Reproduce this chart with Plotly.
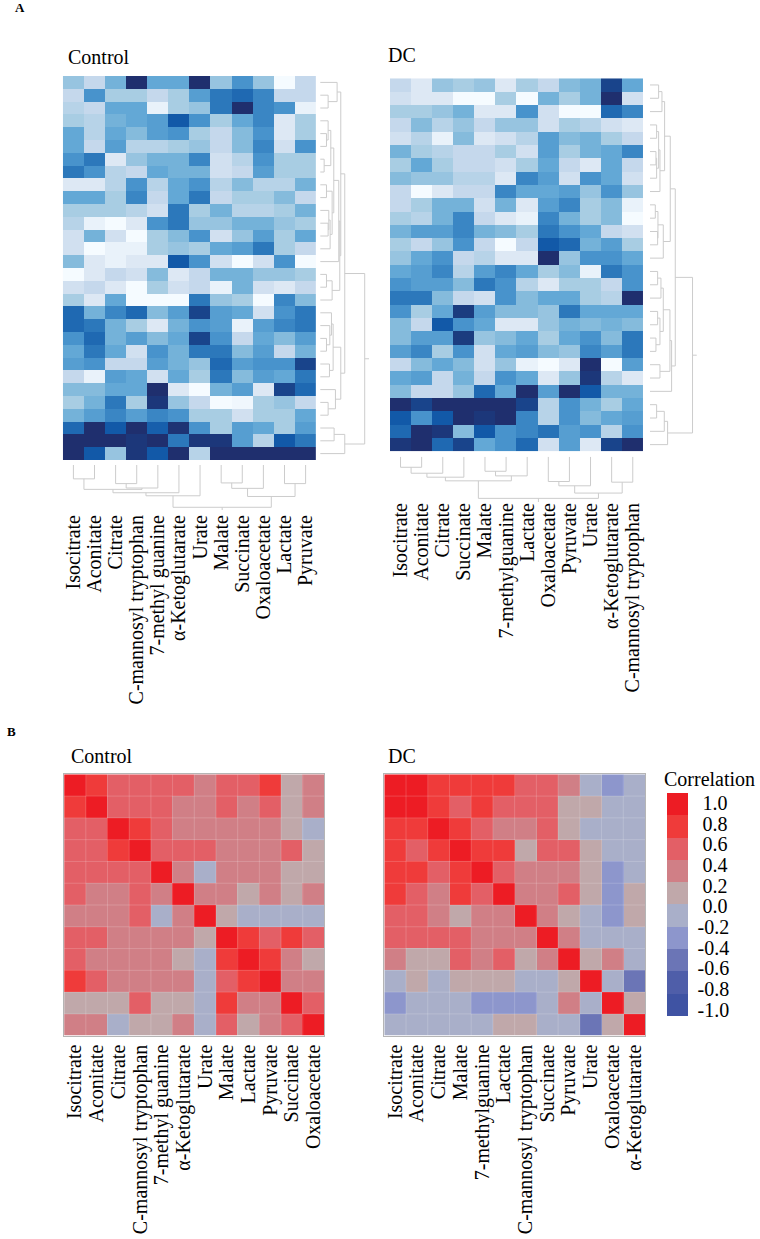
import plotly.graph_objects as go

W, H = 760, 1239
SERIF = "Liberation Serif"

# panel A labels
control_metabolites = ["Isocitrate", "Aconitate", "Citrate", "C-mannosyl tryptophan", "7-methyl guanine",
                       "α-Ketoglutarate", "Urate", "Malate", "Succinate", "Oxaloacetate", "Lactate", "Pyruvate"]
dc_metabolites = ["Isocitrate", "Aconitate", "Citrate", "Succinate", "Malate", "7-methylguanine", "Lactate",
                  "Oxaloacetate", "Pyruvate", "Urate", "α-Ketoglutarate", "C-mannosyl tryptophan"]

# panel B labels
control_corr_labels = ["Isocitrate", "Aconitate", "Citrate", "C-mannosyl tryptophan", "7-methyl guanine",
                       "α-Ketoglutarate", "Urate", "Malate", "Lactate", "Pyruvate", "Succinate", "Oxaloacetate"]
dc_corr_labels = ["Isocitrate", "Aconitate", "Citrate", "Malate", "7-methylguanine", "Lactate",
                  "C-mannosyl tryptophan", "Succinate", "Pyruvate", "Urate", "Oxaloacetate", "α-Ketoglutarate"]

# relative levels, 0 palest to 9 darkest
control_levels = [
    [3.5, 2, 4.5, 9, 5, 5, 9, 3.5, 6, 3.5, 0, 2],
    [2, 6, 3, 3, 2, 3, 5.5, 7, 7.5, 6.5, 2, 2],
    [2.5, 2, 5, 5, 0.5, 3, 3.5, 7, 9, 6.5, 6, 0.5],
    [3, 2.5, 4.5, 5, 5.5, 8, 6, 3, 5, 6.5, 1, 3],
    [5, 2.5, 5, 4, 5.5, 6, 3, 2, 4, 6, 1, 3],
    [5, 2, 5.5, 2.5, 2.5, 3, 3.5, 2, 4, 6.5, 1.5, 6],
    [6, 7, 1, 3.5, 4.5, 4.5, 6.5, 1.5, 2.5, 6, 3, 3],
    [7, 6, 2.5, 2, 5, 4.5, 4.5, 1.5, 2, 5.5, 3, 3],
    [1, 1, 2.5, 6, 2.5, 5, 6, 2.5, 4, 2.5, 2.5, 4.5],
    [5, 5, 3, 6.5, 2, 5, 7, 2, 3, 3, 4, 2],
    [3, 3, 3, 2.5, 1.5, 7, 3, 4.5, 2.5, 2.5, 3, 4.5],
    [2.5, 0.5, 0, 1, 6, 7, 3.5, 3.5, 4.5, 4.5, 3.5, 3],
    [1.5, 4.5, 1.5, 0, 3, 4, 6, 1.5, 3.5, 5.5, 3, 5],
    [1.5, 0, 0.5, 0.5, 3, 3.5, 3, 5, 5.5, 7, 3, 2],
    [4, 1, 0.5, 1, 1, 8, 6, 1.5, 0, 1.5, 6, 0],
    [0, 1, 2, 1.5, 4, 1, 2, 4.5, 4.5, 3.5, 3.5, 3],
    [1.5, 2, 1, 0, 3, 1.5, 2, 0.5, 4.5, 1.5, 1, 2],
    [3, 1, 5, 0, 0, 0, 7, 3.5, 3, 0, 6.5, 4],
    [7.5, 4.5, 6.5, 7.5, 4, 5.5, 8.5, 5.5, 5, 1.5, 6, 7],
    [7.5, 7, 4.5, 3, 1, 4.5, 6, 5.5, 0.5, 5.5, 6.5, 7],
    [6, 7.5, 4.5, 5.5, 4, 5, 8.5, 6, 2, 5, 4, 5.5],
    [5, 7, 5, 1.5, 6, 4.5, 7, 7, 4, 5.5, 2, 4.5],
    [5.5, 6, 2, 2, 5.5, 4.5, 3.5, 7.5, 5.5, 6, 6, 8.5],
    [2, 0.5, 5.5, 5, 1.5, 5, 3, 7, 4, 5.5, 5, 7],
    [4, 4, 5, 5, 9, 1, 0, 4.5, 5.5, 1, 8.5, 7.5],
    [3, 4.5, 7, 3, 8.8, 3.5, 2, 0, 0.2, 3, 3.5, 2],
    [4.5, 5.5, 6.5, 5.5, 6.5, 6, 3, 3, 1.5, 3, 3, 5],
    [7.5, 9, 8, 9, 7.8, 8.9, 6, 3, 5.5, 5, 3, 5.5],
    [9, 9, 9, 8.8, 9, 7, 8.8, 8.8, 5.5, 2.5, 8, 7],
    [9, 8, 3.5, 8.8, 8, 9, 2.5, 9, 9, 9, 9, 9],
]

dc_levels = [
    [2, 1, 3.5, 3, 3.5, 1, 3, 2, 4, 4.5, 8.5, 5],
    [1.5, 1, 1, 0, 0, 3, 0, 4.5, 3, 4.5, 9, 1.5],
    [3, 3, 3.5, 4.5, 1, 1, 6, 1.5, 0, 0, 7.5, 6.5],
    [2, 4, 2.5, 3.5, 2, 3.5, 3.5, 1.5, 3, 2.5, 1.5, 1],
    [1.5, 2.5, 0.5, 4, 1, 1.5, 2.5, 5.5, 4, 4.5, 3, 2],
    [4.5, 3, 2.5, 2, 2, 3, 1.5, 5.5, 3, 4.5, 5, 6.5],
    [3, 5, 3, 2, 2, 1.5, 3, 5, 2, 1, 5, 2],
    [4, 3.5, 3.5, 2.5, 2.5, 1, 6.5, 5.5, 1.5, 6, 5, 1.5],
    [2, 0, 1, 2, 2, 6.5, 5, 5, 5.5, 3.5, 6, 3.5],
    [2, 3, 4.5, 4.5, 1.5, 4.5, 1, 5.5, 6.5, 3, 4, 0.5],
    [3, 2.5, 4.5, 6.5, 2, 1, 0.5, 6.5, 4.5, 3, 4, 0],
    [4.5, 5.5, 5.5, 6.5, 4.5, 4, 3, 7, 6, 5, 2, 1.5],
    [3, 2, 3.5, 6, 2, 0, 2, 8, 7.5, 4.5, 5.5, 3],
    [3.5, 5, 6, 2, 2.5, 1, 1, 9, 3.5, 6, 6, 5],
    [5, 5.5, 6.5, 2.5, 5.5, 6.5, 5, 3, 4, 0.5, 7, 6],
    [6, 5.5, 5.5, 4, 7, 6, 2.5, 1, 3, 3, 2, 6],
    [7, 7, 4, 2, 1.5, 6, 4, 5, 5, 3, 2.5, 9],
    [6, 3, 5, 8.7, 5.5, 4, 4, 3.5, 7, 5, 5, 5],
    [4, 2, 8, 6, 5, 1, 1, 3.5, 4.5, 4, 4.5, 4],
    [4, 5.5, 5.5, 8.7, 3.5, 4, 5, 3, 5, 6, 4, 7],
    [5.5, 6.5, 3, 6, 1.5, 5, 5.5, 4, 3.5, 6.5, 5.5, 7],
    [2, 4, 5, 4, 1.5, 3.5, 0.5, 0, 1, 9, 0, 5.5],
    [5, 5.5, 2, 4.5, 2, 6, 5, 1, 3.5, 8.8, 2.5, 1],
    [4, 2, 2, 3.5, 7.5, 5, 9, 5.5, 9, 8, 4.5, 4.5],
    [9, 8.5, 9, 9, 9, 9, 8.5, 2.5, 6, 4.5, 3, 5],
    [8, 6, 8, 9, 8.8, 9, 6.5, 2.5, 6, 4, 5, 5.5],
    [7.5, 9, 8.8, 4, 8, 6, 6.5, 7.2, 5.5, 6, 2.5, 6],
    [8.8, 9, 7.5, 8.5, 5, 6, 7.5, 1.5, 5.5, 1, 8.5, 9],
]

# correlation matrices, each cell is the midpoint of its colour band
control_corr = [
    [.9, .7, .5, .5, .5, .5, .3, .5, .5, .7, .1, .3],
    [.7, .9, .5, .5, .5, .3, .3, .5, .3, .5, .1, .3],
    [.5, .5, .9, .7, .5, .3, .3, .3, .3, .3, .1, -.1],
    [.5, .5, .7, .9, .5, .5, .5, .3, .3, .3, .5, .1],
    [.5, .5, .5, .5, .9, .3, -.1, .3, .3, .3, .1, .1],
    [.5, .3, .3, .5, .3, .9, .3, .3, .1, .3, .1, .3],
    [.3, .3, .3, .5, -.1, .3, .9, .1, -.1, -.1, -.1, -.1],
    [.5, .5, .3, .3, .3, .3, .1, .9, .7, .5, .7, .5],
    [.5, .3, .3, .3, .3, .1, -.1, .7, .9, .7, .3, .1],
    [.7, .5, .3, .3, .3, .3, -.1, .5, .7, .9, .3, .3],
    [.1, .1, .1, .5, .1, .1, -.1, .7, .3, .3, .9, .5],
    [.3, .3, -.1, .1, .1, .3, -.1, .5, .1, .3, .5, .9],
]

dc_corr = [
    [.9, .9, .7, .7, .7, .7, .5, .5, .3, -.1, -.3, -.1],
    [.9, .9, .7, .5, .7, .5, .5, .5, .1, .1, -.1, -.1],
    [.7, .7, .9, .7, .5, .3, .3, .5, .1, -.1, -.1, -.1],
    [.7, .5, .7, .9, .7, .7, .1, .5, .5, .1, -.1, -.1],
    [.7, .7, .5, .7, .9, .5, .3, .3, .3, .1, -.3, -.1],
    [.7, .5, .3, .7, .5, .9, .3, .3, .5, .1, -.3, .1],
    [.5, .5, .3, .1, .3, .3, .9, .3, .1, -.1, -.3, .1],
    [.5, .5, .5, .5, .3, .3, .3, .9, .3, -.1, -.1, -.1],
    [.3, .1, .1, .5, .3, .5, .1, .3, .9, .1, .3, -.1],
    [-.1, .1, -.1, .1, .1, .1, -.1, -.1, .1, .9, -.1, -.5],
    [-.3, -.1, -.1, -.1, -.3, -.3, -.3, -.1, .3, -.1, .9, .1],
    [-.1, -.1, -.1, -.1, -.1, .1, .1, -.1, -.1, -.5, .1, .9],
]

# dendrogram merges: (child, child, height); ids >= leaf count point at earlier merges
control_row_merges = [
    (1, 2, 24), (0, 30, 51), (4, 5, 19), (3, 32, 24), (6, 7, 12), (33, 34, 32), (8, 9, 19), (11, 12, 24),
    (10, 37, 26), (38, 13, 30), (36, 39, 36), (35, 40, 41), (41, 14, 56), (15, 16, 19), (43, 17, 36),
    (42, 44, 59), (31, 45, 62), (20, 21, 19), (19, 47, 29), (18, 48, 34), (22, 23, 28), (49, 50, 39),
    (25, 26, 24), (24, 52, 46), (51, 53, 62), (46, 54, 74), (27, 28, 42), (56, 29, 74), (55, 57, 134),
]
control_col_merges = [
    (0, 1, 41), (2, 3, 55), (13, 4, 68), (12, 14, 72), (15, 5, 82), (16, 6, 91), (7, 8, 53), (18, 9, 69),
    (10, 11, 55), (19, 20, 93), (17, 21, 125),
]
dc_row_merges = [
    (0, 1, 26), (28, 2, 36), (3, 4, 20), (5, 6, 18), (31, 7, 20), (30, 32, 26), (33, 8, 30), (29, 34, 44),
    (9, 10, 16), (11, 12, 23), (36, 37, 24), (38, 13, 40), (35, 39, 61), (14, 15, 23), (41, 16, 33),
    (17, 18, 23), (19, 20, 18), (43, 44, 30), (42, 45, 40), (21, 22, 30), (46, 47, 60), (48, 23, 65),
    (40, 49, 76), (24, 25, 20), (51, 26, 43), (52, 27, 53), (50, 53, 128),
]
dc_col_merges = [
    (0, 1, 32), (12, 2, 50), (13, 3, 62), (4, 5, 44), (15, 6, 58), (14, 16, 73), (7, 8, 75), (18, 9, 88),
    (10, 11, 77), (19, 20, 110), (17, 21, 126),
]
control_row_top, control_col_top = 147, 133
dc_row_top, dc_col_top = 141, 137

legend_ticks = [0.913, 0.728, 0.542, 0.357, 0.172, -0.013, -0.199, -0.384, -0.57, -0.755, -0.94]
legend_labels = ["\u20051.0", "\u20050.8", "\u20050.6", "\u20050.4", "\u20050.2", "\u20050.0",
                 "-0.2", "-0.4", "-0.6", "-0.8", "-1.0"]

band_colors = ["#3f53a3", "#4f5ea9", "#6b75b6", "#8d96cc", "#a9afc9",
               "#c0a8aa", "#d07f86", "#e35f66", "#ef3b3a", "#ed1c24"]
blue_colors = ["#f5fbff", "#dde8f4", "#c5d8ec", "#a8cde3", "#85bbdc",
               "#63a8d6", "#4893cc", "#2c78bb", "#1259a8", "#1f2f6e"]
DENDRO = "#cccccc"


def dom_x(left, right):
    return [left / W, right / W]


def dom_y(top, bottom):
    return [1 - bottom / H, 1 - top / H]


def dendro_lines(merges, n_leaves, top):
    pos = {i: i for i in range(n_leaves)}
    hgt = {i: 0 for i in range(n_leaves)}
    along, height = [], []
    for k, (a, b, h) in enumerate(merges):
        along += [pos[a], pos[a], pos[b], pos[b], None]
        height += [hgt[a], h, h, hgt[b], None]
        pos[n_leaves + k] = (pos[a] + pos[b]) / 2
        hgt[n_leaves + k] = h
    root = n_leaves + len(merges) - 1
    along += [pos[root], pos[root]]
    height += [hgt[root], top]
    return along, height


fig = go.Figure()
blue_scale = [[i / 9, c] for i, c in enumerate(blue_colors)]
band_scale = []
for i, c in enumerate(band_colors):
    band_scale += [[i / 10, c], [(i + 1) / 10, c]]

hidden = dict(visible=False, showgrid=False, zeroline=False)
label_font = dict(family=SERIF, size=20, color="black")


def blue_panel(n, levels, labels, row_merges, col_merges, row_top, col_top, left, right, top, bottom,
               row_left, row_right, col_top_px, col_bottom_px, standoff):
    # n is the axis number of the heatmap, n+1 the row tree, n+2 the column tree
    rows = len(levels)
    fig.add_trace(go.Heatmap(z=levels, x=list(range(12)), y=list(range(rows)), colorscale=blue_scale,
                             zmin=0, zmax=9, showscale=False, xaxis=f"x{n}", yaxis=f"y{n}"))
    fig.layout[f"xaxis{n}"] = dict(domain=dom_x(left, right), range=[-0.5, 11.5], anchor=f"y{n}", **hidden)
    fig.layout[f"yaxis{n}"] = dict(domain=dom_y(top, bottom), range=[rows - 0.5, -0.5], anchor=f"x{n}", **hidden)

    along, height = dendro_lines(row_merges, rows, row_top)
    fig.add_trace(go.Scatter(x=height, y=along, mode="lines", line=dict(color=DENDRO, width=1),
                             showlegend=False, xaxis=f"x{n + 1}", yaxis=f"y{n + 1}"))
    fig.layout[f"xaxis{n + 1}"] = dict(domain=dom_x(row_left, row_right), range=[0, row_top],
                                       anchor=f"y{n + 1}", **hidden)
    fig.layout[f"yaxis{n + 1}"] = dict(domain=dom_y(top, bottom), range=[rows - 0.5, -0.5],
                                       anchor=f"x{n + 1}", **hidden)

    along, height = dendro_lines(col_merges, 12, col_top)
    fig.add_trace(go.Scatter(x=along, y=height, mode="lines", line=dict(color=DENDRO, width=1),
                             showlegend=False, xaxis=f"x{n + 2}", yaxis=f"y{n + 2}"))
    fig.layout[f"xaxis{n + 2}"] = dict(domain=dom_x(left, right), range=[-0.5, 11.5], anchor=f"y{n + 2}",
                                       tickmode="array", tickvals=list(range(12)), ticktext=labels,
                                       tickangle=-90, tickfont=label_font, ticks="", showgrid=False,
                                       zeroline=False, showline=False, ticklabelstandoff=standoff)
    fig.layout[f"yaxis{n + 2}"] = dict(domain=dom_y(col_top_px, col_bottom_px), range=[col_top, 0],
                                       anchor=f"x{n + 2}", **hidden)


def corr_panel(n, corr, labels, left, right, top, bottom):
    cells = list(range(12))
    fig.add_trace(go.Heatmap(z=corr, x=cells, y=cells, coloraxis="coloraxis", xaxis=f"x{n}", yaxis=f"y{n}"))
    # faint cell borders over the flat heatmap
    grid_x, grid_y = [], []
    for edge in cells[1:]:
        grid_x += [edge - 0.5, edge - 0.5, None, -0.5, 11.5, None]
        grid_y += [-0.5, 11.5, None, edge - 0.5, edge - 0.5, None]
    fig.add_trace(go.Scatter(x=grid_x, y=grid_y, mode="lines", hoverinfo="skip", showlegend=False,
                             line=dict(color="rgba(255,255,255,0.18)", width=1),
                             xaxis=f"x{n}", yaxis=f"y{n}"))
    frame = dict(showline=True, mirror=True, linecolor="#b5b5b5", linewidth=1, showgrid=False, zeroline=False)
    fig.layout[f"xaxis{n}"] = dict(domain=dom_x(left, right), range=[-0.5, 11.5], anchor=f"y{n}",
                                   tickmode="array", tickvals=cells, ticktext=labels,
                                   tickangle=-90, tickfont=label_font, ticks="", **frame)
    fig.layout[f"yaxis{n}"] = dict(domain=dom_y(top, bottom), range=[11.5, -0.5], anchor=f"x{n}",
                                   showticklabels=False, ticks="", **frame)


blue_panel(1, control_levels, control_metabolites, control_row_merges, control_col_merges,
           control_row_top, control_col_top, 62, 316, 76, 460, 320, 369, 465, 510, 0)
blue_panel(4, dc_levels, dc_metabolites, dc_row_merges, dc_col_merges,
           dc_row_top, dc_col_top, 390, 644, 78.3, 451.3, 650.7, 697.7, 456.7, 502, -4)
corr_panel(7, control_corr, control_corr_labels, 63.3, 324.3, 774.3, 1035.7)
corr_panel(8, dc_corr, dc_corr_labels, 384.3, 645.7, 774.3, 1035.7)


def note(text, x, y, size=20, bold=False):
    fig.add_annotation(text=f"<b>{text}</b>" if bold else text, x=x / W, y=1 - y / H, xref="paper", yref="paper",
                       xanchor="left", yanchor="middle", showarrow=False,
                       font=dict(family=SERIF, size=size, color="black"))


note("A", 12, 8, 13, True)
note("B", 4, 731, 13, True)
note("Control", 65, 57)
note("DC", 386, 55)
note("Control", 68, 756)
note("DC", 386, 756)
note("Correlation", 663, 779)

fig.update_layout(
    width=W, height=H, autosize=False, margin=dict(l=0, r=0, t=0, b=0),
    paper_bgcolor="white", plot_bgcolor="white", showlegend=False,
    coloraxis=dict(
        colorscale=band_scale, cmin=-1, cmax=1,
        colorbar=dict(x=667.7 / W, xanchor="left", xpad=0, y=1 - 793.3 / H, yanchor="top", ypad=0,
                      thickness=21.3, thicknessmode="pixels", len=223.4, lenmode="pixels",
                      tickmode="array", tickvals=legend_ticks, ticktext=legend_labels,
                      ticks="outside", ticklen=6, tickcolor="rgba(0,0,0,0)",
                      tickfont=dict(family=SERIF, size=20, color="black"), outlinewidth=0),
    ),
)

fig.write_html("out.html", config={"displayModeBar": False}, post_script="document.body.style.margin='0';")
